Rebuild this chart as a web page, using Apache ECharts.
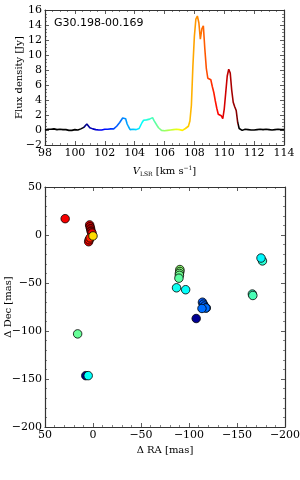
<!DOCTYPE html>
<html><head><meta charset="utf-8">
<script src="https://cdn.jsdelivr.net/npm/echarts@6/dist/echarts.min.js"></script>
<style>html,body{margin:0;padding:0;background:#fff}#c{width:300px;height:480px}</style>
</head><body><div id="c"></div>
<script>
// ---- Data ----
const sourceName = 'G30.198-00.169';
const velStart = 98.0;      // km/s, first channel
const velStep = 0.1;        // km/s channel spacing
// flux density [Jy] per channel, 98.0 .. 114.0
const flux = [
 0.0,0.05,0.1,-0.05,0.1,0.0,0.15,0.0,0.05,-0.05,
 0.1,0.0,0.05,-0.1,0.05,-0.1,-0.05,-0.15,-0.05,0.0,
 0.05,0.1,0.0,0.1,0.15,
 0.2,0.35,0.6,0.8,0.55,0.3,0.2,0.15,0.1,0.05,
 -0.05,0.0,-0.05,0.0,0.05,0.1,0.2,0.1,0.05,0.15,
 0.1,0.15,0.3,0.5,0.75,1.0,1.25,1.6,1.85,1.5,
 0.8,0.4,0.05,-0.1,0.1,0.25,0.05,-0.05,0.2,0.6,
 1.0,1.3,1.4,1.35,1.55,1.45,1.55,1.65,1.25,1.0,
 0.6,0.3,0.1,-0.05,0.0,-0.1,0.05,-0.05,0.05,0.0,
 0.1,0.05,0.0,0.1,0.2,0.05,0.0,-0.05,0.05,0.2,
 0.4,0.5,1.2,3.3,8.5,12.5,14.8,15.2,14.3,12.1,
 13.5,13.9,10.8,8.2,6.9,6.8,6.7,5.8,5.0,3.9,
 2.9,2.1,2.0,1.9,1.5,2.8,5.0,7.2,8.1,7.6,
 5.3,3.7,3.1,2.6,1.0,0.2,
 0.0,-0.05,0.0,0.1,-0.05,0.05,-0.05,0.0,0.05,0.0,
 -0.05,0.05,0.0,0.1,0.0,0.05,-0.05,0.1,0.0,0.05,
 0.15,0.0,0.2,0.05,-0.05,0.1,-0.15,0.05,0.0,0.05
];
// maser spots: RA offset [mas], Dec offset [mas], velocity [km/s]
const spotRA  = [-114,-115,-116,-118,-117.5,-113.5,-107.5, -90.5,-90.5,-90,-90,-89.5, -87,-96.5, -176.5,-175, -166,-166.5, 16, 7.5,5, 29, 3.5,3,2.5,2,1, 4.5,4,3, 0];
const spotDec = [-70,-72,-74,-76,-76,-76.5,-87, -36,-38,-40,-42,-45, -55,-57, -27,-24, -61.5,-63, -103, -146.5,-146.5, 17, 10.5,8.5,6.5,4,2, -7,-5,-3, -1];
const spotVel = [102.8,102.9,102.9,103.0,103.0,103.0,100.8, 105.9,105.8,105.7,105.6,105.4, 104.6,104.5, 104.9,104.4, 105.1,105.2, 105.5, 100.7,104.5, 109.7, 110.0,109.9,110.4,110.6,109.8, 109.6,109.5,109.3, 107.4];
const velMin = 100.6, velMax = 110.9;
const specXTicks = {min: 98, max: 114, interval: 2};
const specYTicks = {min: -2, max: 16, interval: 2};
const mapTicks = {min: -200, max: 50, interval: 50};

// ---- build ----
const specData = flux.map((f, i) => [+(velStart + i * velStep).toFixed(2), f]);
const spotData = spotRA.map((r, i) => [r, spotDec[i], spotVel[i]]);

function clamp(x){return Math.max(0, Math.min(1, x));}
function jet(t){
  const r = clamp(Math.min(4*t-1.5, -4*t+4.5));
  const g = clamp(Math.min(4*t-0.5, -4*t+3.5));
  const b = clamp(Math.min(4*t+0.5, -4*t+2.5));
  const h = v => Math.round(v*255).toString(16).padStart(2,'0');
  return '#' + h(r) + h(g) + h(b);
}
const jetColors = [];
for (let i = 0; i <= 40; i++) jetColors.push(jet(i/40));
// line colour ramp over the whole velocity axis: black outside the maser range
const lineColors = [];
const nStops = 320;
for (let i = 0; i <= nStops; i++) {
  const v = specXTicks.min + (specXTicks.max - specXTicks.min) * i / nStops;
  lineColors.push(v < velMin || v > velMax ? '#000000' : jet((v - velMin) / (velMax - velMin)));
}

const FONT = 'DejaVu Serif';
const axisCol = '#333';
const minus = v => String(v).replace('-', '\u2212');

function frameAxis(extra, showLabels, minorSplit){
  return Object.assign({
    type: 'value',
    nameMoveOverlap: false,
    axisLine: {show: true, onZero: false, lineStyle: {color: axisCol, width: 1.2}},
    axisTick: {show: true, inside: true, length: 4, lineStyle: {color: axisCol, width: 0.8}},
    minorTick: {show: true, splitNumber: minorSplit, length: 2, lineStyle: {color: axisCol, width: 0.6}},
    splitLine: {show: false},
    axisLabel: showLabels ? {show: true, fontFamily: FONT, fontSize: 11, color: '#000', margin: 3, formatter: minus, hideOverlap: false, showMinLabel: true, showMaxLabel: true}
                          : {show: false}
  }, extra);
}

const option = {
  animation: false,
  backgroundColor: '#fff',
  grid: [
    {left: 45, top: 10, width: 239, height: 135, outerBoundsMode: 'none', containLabel: false},
    {left: 45, top: 187, width: 240, height: 240, outerBoundsMode: 'none', containLabel: false}
  ],
  title: {
    text: sourceName, left: 54, top: 18, padding: 0,
    textStyle: {fontFamily: 'DejaVu Sans', fontSize: 11, fontWeight: 'normal', color: '#000'}
  },
  xAxis: [
    frameAxis(Object.assign({gridIndex: 0, position: 'bottom',
      name: '{i|V}{s|LSR} [km s{p|\u22121}]', nameLocation: 'middle', nameGap: 20,
      nameTextStyle: {fontFamily: FONT, fontSize: 10, color: '#000',
        rich: {i: {fontFamily: FONT, fontStyle: 'italic', fontSize: 10, lineHeight: 12},
               s: {fontFamily: FONT, fontSize: 6, lineHeight: 6, verticalAlign: 'bottom', padding: [3,0,0,0]},
               p: {fontFamily: FONT, fontSize: 6, lineHeight: 6, verticalAlign: 'top', padding: [0,0,3,0]}}}
    }, specXTicks), true, 4),
    frameAxis(Object.assign({gridIndex: 0, position: 'top'}, specXTicks), false, 4),
    frameAxis(Object.assign({gridIndex: 1, position: 'bottom', inverse: true,
      name: '\u0394 RA [mas]', nameLocation: 'middle', nameGap: 18,
      nameTextStyle: {fontFamily: FONT, fontSize: 10, color: '#000'}}, mapTicks), true, 5),
    frameAxis(Object.assign({gridIndex: 1, position: 'top', inverse: true}, mapTicks), false, 5)
  ],
  yAxis: [
    frameAxis(Object.assign({gridIndex: 0, position: 'left',
      name: 'Flux density [Jy]', nameLocation: 'middle', nameGap: 21,
      nameTextStyle: {fontFamily: FONT, fontSize: 10, color: '#000'}}, specYTicks), true, 4),
    frameAxis(Object.assign({gridIndex: 0, position: 'right'}, specYTicks), false, 4),
    frameAxis(Object.assign({gridIndex: 1, position: 'left',
      name: '\u0394 Dec [mas]', nameLocation: 'middle', nameGap: 32,
      nameTextStyle: {fontFamily: FONT, fontSize: 10, color: '#000'}}, mapTicks), true, 5),
    frameAxis(Object.assign({gridIndex: 1, position: 'right'}, mapTicks), false, 5)
  ],
  visualMap: [
    {type: 'continuous', show: false, seriesIndex: 0, dimension: 0,
     min: specXTicks.min, max: specXTicks.max, inRange: {color: lineColors}},
    {type: 'continuous', show: false, seriesIndex: 1, dimension: 2, min: velMin, max: velMax,
     inRange: {color: jetColors}, outOfRange: {color: '#000'}}
  ],
  series: [
    {type: 'line', xAxisIndex: 0, yAxisIndex: 0, data: specData, showSymbol: false,
     lineStyle: {width: 1.6}, clip: true},
    {type: 'scatter', xAxisIndex: 2, yAxisIndex: 2, data: spotData, symbolSize: 8.5,
     itemStyle: {borderColor: '#000', borderWidth: 0.8, opacity: 1}}
  ]
};
const chart = echarts.init(document.getElementById('c'), null, {renderer: 'canvas'});
chart.setOption(option);
</script></body></html>
